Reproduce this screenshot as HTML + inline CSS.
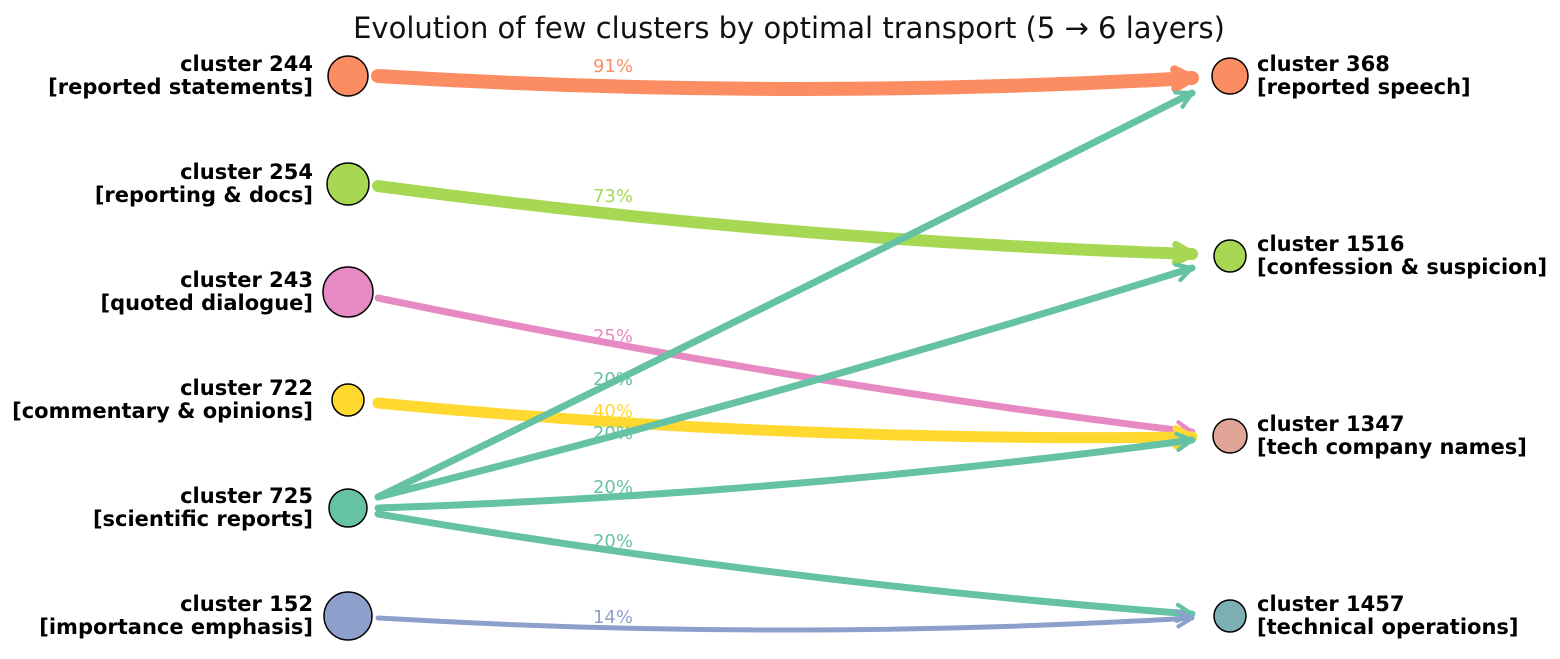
<!DOCTYPE html>
<html><head><meta charset="utf-8"><style>
body{margin:0;background:#fff;}
svg{display:block;font-family:"DejaVu Sans","Liberation Sans",sans-serif;}
</style></head><body>
<svg id="chart" width="1560" height="659">
<text x="789" y="38" text-anchor="middle" font-size="29" fill="#111">Evolution of few clusters by optimal transport (5 → 6 layers)</text>
<g id="flows"></g><g id="flowlabels"></g><g id="nodes"></g>
</svg>
<script>
const leftNames=["cluster 244","cluster 254","cluster 243","cluster 722","cluster 725","cluster 152"];
const leftDesc=["[reported statements]","[reporting & docs]","[quoted dialogue]","[commentary & opinions]","[scientific reports]","[importance emphasis]"];
const leftColors=["#fc8d62","#a6d854","#e78ac3","#ffd92f","#66c2a5","#8da0cb"];
const leftSizes=[20,21,25,16,19,24];
const rightNames=["cluster 368","cluster 1516","cluster 1347","cluster 1457"];
const rightDesc=["[reported speech]","[confession & suspicion]","[tech company names]","[technical operations]"];
const rightColors=["#fc8d62","#a6d854","#e0a596","#7aafb3"];
const rightSizes=[18,16,17,16];
const leftY=[76,184,292,400,508,616];
const rightY=[76,256,436,616];
const flowFrom=[0,1,2,3,4,4,4,4,5];
const flowTo=[0,1,2,2,0,1,2,3,3];
const flowPct=[91,73,25,40,20,20,20,20,14];
const flowWidth=[14,12,7,11,7,7,7,7,5];
const flowLabelY=[66,196,336,411,379,433,487,541,617];
const flowStartOff=[0,2,6,3,-11,-11,0,6,2];
const flowEndOff=[2,-2,-4,1,17,12,4,-2,2];
const NS="http://www.w3.org/2000/svg";
const gF=document.getElementById('flows'),gL=document.getElementById('flowlabels'),gN=document.getElementById('nodes');
const LX=348,RX=1230,X0=378,X1=1192;
function mk(t,a,p){const e=document.createElementNS(NS,t);for(const k in a)e.setAttribute(k,a[k]);p.appendChild(e);return e;}
for(let i=0;i<flowPct.length;i++){
  const c=leftColors[flowFrom[i]];
  const y0=leftY[flowFrom[i]]+flowStartOff[i], y1=rightY[flowTo[i]]+flowEndOff[i];
  const sag=Math.max(0,24-Math.abs(y1-y0)*0.05);
  const cx=(X0+X1)/2, cy=(y0+y1)/2+sag;
  const p=mk('path',{d:`M${X0},${y0} Q${cx},${cy} ${X1},${y1}`,fill:'none',stroke:c,'stroke-width':flowWidth[i],'stroke-linecap':'round'},gF);
  
  
  const ang=Math.atan2(y1-cy,X1-cx);
  const L=14+flowWidth[i]*0.4, w=0.5;
  const a1=[X1-L*Math.cos(ang-w),y1-L*Math.sin(ang-w)], a2=[X1-L*Math.cos(ang+w),y1-L*Math.sin(ang+w)];
  const h=mk('path',{d:`M${a1[0]},${a1[1]} L${X1},${y1} L${a2[0]},${a2[1]}`,fill:'none',stroke:c,'stroke-width':Math.max(4,flowWidth[i]*0.6),'stroke-linecap':'round','stroke-linejoin':'round'},gF);
  
  
  const t=mk('text',{x:613,y:flowLabelY[i]+6,'text-anchor':'middle','font-size':18,fill:c},gL);
  t.textContent=flowPct[i]+'%';
  
  
}
function node(x,y,r,col,name,desc,side){
  const c=mk('circle',{cx:x,cy:y,r:r,fill:col,stroke:'#000','stroke-width':1.5},gN);
  
  
  const tx=side==='l'?313:1257, anc=side==='l'?'end':'start';
  const t=mk('text',{x:tx,y:y-5,'text-anchor':anc,'font-size':21,'font-weight':'bold',fill:'#000'},gN);
  t.textContent=name;
  
  
  const d=mk('text',{x:tx,y:y+18,'text-anchor':anc,'font-size':21,'font-weight':'bold',fill:'#000'},gN);
  d.textContent=desc;
  
  
}
for(let i=0;i<leftNames.length;i++)node(LX,leftY[i],leftSizes[i],leftColors[i],leftNames[i],leftDesc[i],'l');
for(let i=0;i<rightNames.length;i++)node(RX,rightY[i],rightSizes[i],rightColors[i],rightNames[i],rightDesc[i],'r');
</script>
</body></html>
